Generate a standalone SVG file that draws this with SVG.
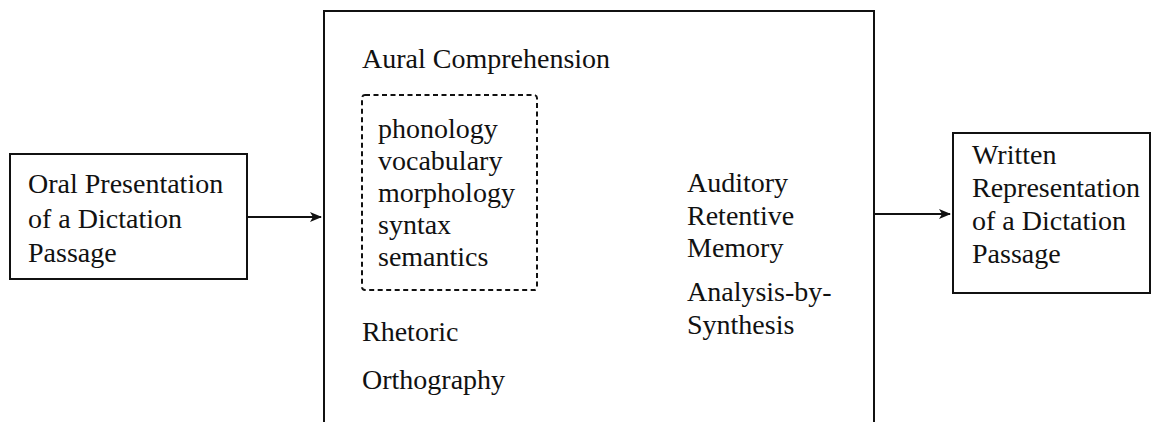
<svg xmlns="http://www.w3.org/2000/svg" width="1160" height="422" viewBox="0 0 1160 422">
<style>
  .box { fill: none; stroke: #111; stroke-width: 2; }
  .dash { fill: none; stroke: #111; stroke-width: 2; stroke-dasharray: 5 3.5; }
  .t { font-family: "Liberation Serif", "Times New Roman", serif; font-size: 28px; fill: #111; }
  .conn { stroke: #111; stroke-width: 2; fill: none; }
</style>
<defs>
  <marker id="arr" markerWidth="12" markerHeight="10" refX="11" refY="5" orient="auto" markerUnits="userSpaceOnUse">
    <path d="M0,0 L12,5 L0,10 L3,5 Z" fill="#111"/>
  </marker>
</defs>
<rect width="1160" height="422" fill="#fff"/>
<g id="oral">
  <rect class="box" x="10" y="154" width="237" height="125"/>
  <text class="t" x="28" y="193">Oral Presentation</text>
  <text class="t" x="28" y="228">of a Dictation</text>
  <text class="t" x="28" y="262">Passage</text>
</g>
<g id="process">
  <rect class="box" x="324" y="11" width="550" height="420"/>
  <text class="t" x="362" y="68">Aural Comprehension</text>
  <text class="t" x="362" y="341">Rhetoric</text>
  <text class="t" x="362" y="389">Orthography</text>
  <text class="t" x="687" y="192">Auditory</text>
  <text class="t" x="687" y="225">Retentive</text>
  <text class="t" x="687" y="257">Memory</text>
  <text class="t" x="687" y="301">Analysis-by-</text>
  <text class="t" x="687" y="334">Synthesis</text>
</g>
<g id="linguistic">
  <rect class="dash" x="362" y="95" width="175" height="195" rx="3"/>
  <text class="t" x="378" y="138">phonology</text>
  <text class="t" x="378" y="170">vocabulary</text>
  <text class="t" x="378" y="202">morphology</text>
  <text class="t" x="378" y="234">syntax</text>
  <text class="t" x="378" y="266">semantics</text>
</g>
<g id="written">
  <rect class="box" x="953" y="133" width="197" height="160"/>
  <text class="t" x="972" y="164">Written</text>
  <text class="t" x="972" y="197">Representation</text>
  <text class="t" x="972" y="230">of a Dictation</text>
  <text class="t" x="972" y="263">Passage</text>
</g>
<g id="connectors">
  <line class="conn" x1="247" y1="217" x2="321" y2="217" marker-end="url(#arr)"/>
  <line class="conn" x1="874" y1="214" x2="950" y2="214" marker-end="url(#arr)"/>
</g>
</svg>
